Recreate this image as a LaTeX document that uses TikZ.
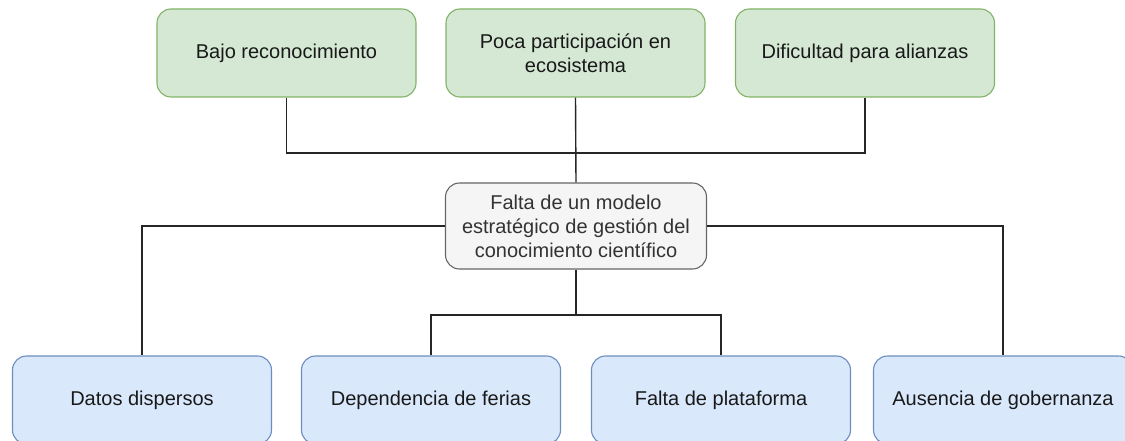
\documentclass[tikz,border=0pt]{standalone}
\usepackage{fontspec}
\setmainfont{Liberation Sans}
\definecolor{verdef}{HTML}{D5E8D4}
\definecolor{verdel}{HTML}{82B366}
\definecolor{azulf}{HTML}{DAE8FC}
\definecolor{azull}{HTML}{6C8EBF}
\definecolor{grisf}{HTML}{F5F5F5}
\definecolor{grisl}{HTML}{666666}
\definecolor{grist}{HTML}{333333}
\tikzset{
  caja/.style={draw, rounded corners=14pt, line width=1.1pt, minimum width=259pt, align=center,
    font=\fontsize{20}{24}\selectfont, text=black!90},
  efecto/.style={caja, fill=verdef, draw=verdel, minimum height=88pt},
  causa/.style={caja, fill=azulf, draw=azull, minimum height=88pt},
  problema/.style={caja, fill=grisf, draw=grisl, text=grist, minimum width=261pt, minimum height=86pt},
  enlace/.style={line width=1.4pt, draw=black!85}
}
\begin{document}
\begin{tikzpicture}[x=1pt,y=-1pt]
	\useasboundingbox (0,0) rectangle (1125,441);
		\node[efecto] (bajo) at (286.5,53) {Bajo reconocimiento};
		\node[efecto] (poca) at (575.5,53) {Poca participación en\\ecosistema};
		\node[efecto] (dific) at (865,53) {Dificultad para alianzas};
		\node[problema] (falta) at (576,226) {Falta de un modelo\\estratégico de gestión del\\conocimiento científico};
		\node[causa] (datos) at (142,400) {Datos dispersos};
		\node[causa] (ferias) at (431,400) {Dependencia de ferias};
		\node[causa] (plataf) at (721,400) {Falta de plataforma};
		\node[causa] (gober) at (1003,400) {Ausencia de gobernanza};
		\coordinate (unearriba) at (576,153);
		\coordinate (uneabajo) at (576,315);
		\draw[enlace] (bajo.south) |- (unearriba) -| (dific.south);
		\draw[enlace] (poca.south) -- (falta.north);
		\draw[enlace] (falta.west) -| (datos.north);
		\draw[enlace] (falta.east) -| (gober.north);
		\draw[enlace] (falta.south) -- (uneabajo);
		\draw[enlace] (ferias.north) |- (uneabajo) -| (plataf.north);
	\end{tikzpicture}
\end{document}
